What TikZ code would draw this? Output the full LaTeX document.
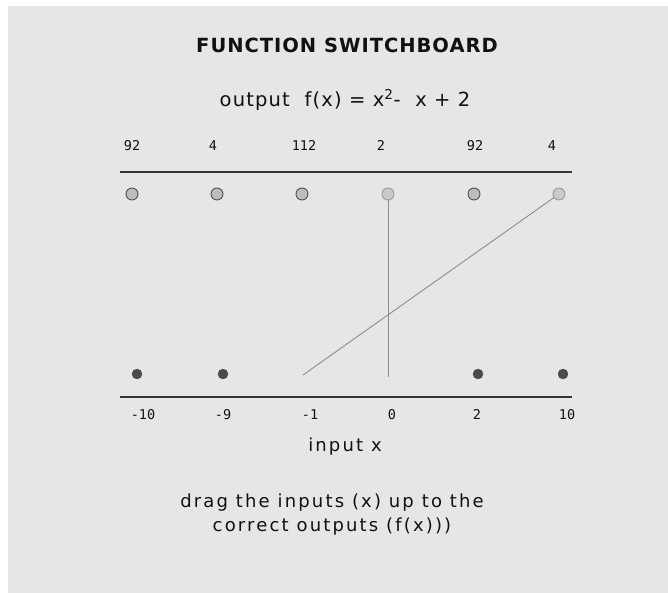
\documentclass[tikz,border=0pt]{standalone}
\usepackage{fontspec}
\setmainfont{DejaVu Sans}
\newfontfamily\numfont{DejaVu Sans Mono}
\definecolor{panel}{HTML}{E6E6E6}
\definecolor{ink}{HTML}{111111}
\definecolor{outfill}{HTML}{BDBDBD}
\definecolor{outedge}{HTML}{505050}
\definecolor{litfill}{HTML}{CACACA}
\definecolor{litedge}{HTML}{9A9A9A}
\definecolor{infill}{HTML}{4A4A4A}
\definecolor{wirecol}{HTML}{8C8C8C}
\tikzset{
  outdot/.style={circle,draw=outedge,fill=outfill,line width=0.9pt,minimum size=12pt,inner sep=0pt},
  litdot/.style={circle,draw=litedge,fill=litfill,line width=0.9pt,minimum size=12pt,inner sep=0pt},
  indot/.style={circle,draw=infill,fill=infill,minimum size=10pt,inner sep=0pt},
  numlbl/.style={font=\numfont\fontsize{13.5}{15}\selectfont,text=ink,inner sep=0pt,anchor=base},
  axisline/.style={draw=ink!85,line width=1.3pt},
  wire/.style={draw=wirecol,line width=0.9pt},
  txt/.style={text=ink,inner sep=0pt}
}
\begin{document}
\begin{tikzpicture}[x=1pt,y=-1pt]
\useasboundingbox (0,0) rectangle (668,593);
\fill[panel] (8,6) rectangle (668,593);
% title
\node[txt,font=\bfseries\fontsize{19.5}{22}\selectfont\addfontfeature{LetterSpace=5}] (title) at (347,45) {FUNCTION SWITCHBOARD};
\node[txt,font=\fontsize{19.5}{22}\selectfont\addfontfeature{LetterSpace=6}] (formula) at (345,100) {output\ \ f(x) = x\textsuperscript{2}-\ \ x + 2};
% output labels
\node[numlbl] (l1) at (132,150.5) {92};
\node[numlbl] (l2) at (213,150.5) {4};
\node[numlbl] (l3) at (304,150.5) {112};
\node[numlbl] (l4) at (381,150.5) {2};
\node[numlbl] (l5) at (475,150.5) {92};
\node[numlbl] (l6) at (552,150.5) {4};
% axis lines
\draw[axisline] (120,172) -- (572,172);
\draw[axisline] (120,397) -- (572,397);
% output circles
\node[outdot] (o1) at (132,194) {};
\node[outdot] (o2) at (217,194) {};
\node[outdot] (o3) at (302,194) {};
\node[litdot] (o4) at (388,194) {};
\node[outdot] (o5) at (474,194) {};
\node[litdot] (o6) at (559,194) {};
% input dots
\node[indot] (i1) at (137,374) {};
\node[indot] (i2) at (223,374) {};
\coordinate (i3) at (303,375);
\coordinate (i4) at (388,377);
\node[indot] (i5) at (478,374) {};
\node[indot] (i6) at (563,374) {};
% connectors
\draw[wire] (i4) -- (o4);
\draw[wire] (i3) -- (o6);
% input labels
\node[numlbl] (x1) at (143,419.5) {-10};
\node[numlbl] (x2) at (223,419.5) {-9};
\node[numlbl] (x3) at (310,419.5) {-1};
\node[numlbl] (x4) at (392,419.5) {0};
\node[numlbl] (x5) at (477,419.5) {2};
\node[numlbl] (x6) at (567,419.5) {10};
\node[txt,font=\fontsize{18}{20}\selectfont\addfontfeature{LetterSpace=12}] (inlbl) at (345,447) {input x};
% instructions
\node[txt,font=\fontsize{18}{20}\selectfont\addfontfeature{LetterSpace=12},align=center] (hint) at (332,514.5) {drag the inputs (x) up to the\\[4pt]correct outputs (f(x)))};
\end{tikzpicture}
\end{document}
